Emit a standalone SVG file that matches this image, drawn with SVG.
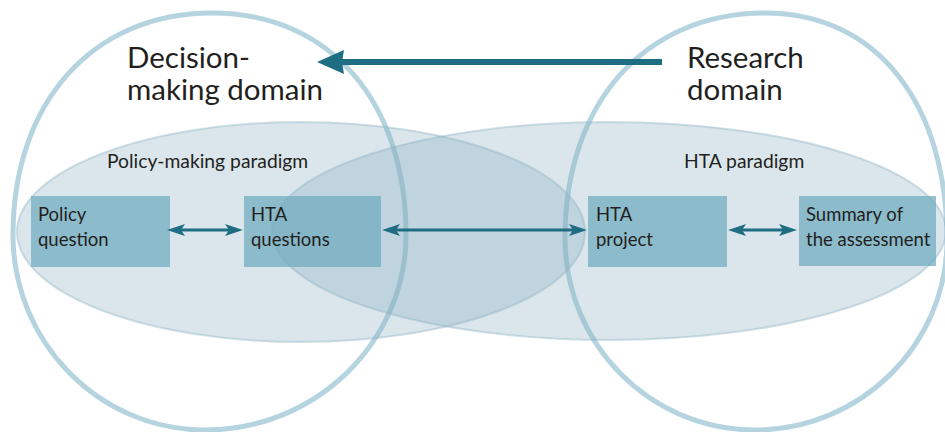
<svg xmlns="http://www.w3.org/2000/svg" width="945" height="432" viewBox="0 0 945 432">
  <defs>
    <style>
      .domain { fill: none; stroke: #b6d4df; stroke-width: 5; }
      .paradigm { fill: #84acbf; fill-opacity: 0.3; stroke: #8fb2c3; stroke-opacity: 0.4; stroke-width: 2; }
      .box { fill: #6daabe; fill-opacity: 0.72; }
      .title { font-family: Lato, "Open Sans", "Liberation Sans", sans-serif; font-size: 29.5px; fill: #231f20; }
      .label { font-family: Lato, "Open Sans", "Liberation Sans", sans-serif; font-size: 19.3px; fill: #231f20; }
      .boxtext { font-family: Lato, "Open Sans", "Liberation Sans", sans-serif; font-size: 18.5px; fill: #231f20; }
      .link { stroke: #1f6d82; stroke-width: 3; fill: none; }
      .flow { stroke: #1f6d82; stroke-width: 6; fill: none; }
    </style>
    <marker id="head" viewBox="0 0 18 12" refX="4" refY="6" markerWidth="18" markerHeight="12" markerUnits="userSpaceOnUse" orient="auto-start-reverse">
      <path d="M0,0 L18,6 L0,12 L4,6 z" fill="#1f6d82"/>
    </marker>
    <marker id="bighead" viewBox="0 0 27 24" refX="2" refY="12" markerWidth="27" markerHeight="24" markerUnits="userSpaceOnUse" orient="auto">
      <path d="M0,0 L27,12 L0,24 L2,12 z" fill="#1f6d82"/>
    </marker>
  </defs>

  <!-- domain outlines -->
  <g id="decision-domain">
    <path class="domain" d="M212,13 C330,13 406,102 406,235 C406,342 316,430 205,430 C99,430 13,342 13,235 C13,102 93,13 212,13 Z"/>
  </g>
  <g id="research-domain">
    <path class="domain" d="M765,13 C877,13 947,104 947,240 C947,345 860,430 755,430 C650,430 565,344 565,238 C565,103 645,13 765,13 Z"/>
  </g>

  <!-- paradigm ellipses -->
  <g id="policy-paradigm">
    <ellipse class="paradigm" cx="301" cy="232" rx="284" ry="110"/>
    <text class="label" x="107" y="168">Policy-making paradigm</text>
  </g>
  <g id="hta-paradigm">
    <ellipse class="paradigm" cx="609" cy="231" rx="337" ry="109"/>
    <text class="label" x="684" y="168">HTA paradigm</text>
  </g>

  <!-- domain titles -->
  <g id="decision-title">
    <text class="title" x="127" y="68">Decision-</text>
    <text class="title" x="127" y="100">making domain</text>
  </g>
  <g id="research-title">
    <text class="title" x="687" y="68">Research</text>
    <text class="title" x="687" y="100">domain</text>
  </g>

  <!-- process boxes -->
  <g id="policy-question">
    <rect class="box" x="31" y="196" width="139" height="71"/>
    <text class="boxtext" x="38" y="221">Policy</text>
    <text class="boxtext" x="38" y="246">question</text>
  </g>
  <g id="hta-questions">
    <rect class="box" x="244" y="196" width="137" height="71"/>
    <text class="boxtext" x="251" y="221">HTA</text>
    <text class="boxtext" x="251" y="246">questions</text>
  </g>
  <g id="hta-project">
    <rect class="box" x="588" y="196" width="139" height="71"/>
    <text class="boxtext" x="596" y="221">HTA</text>
    <text class="boxtext" x="596" y="246">project</text>
  </g>
  <g id="summary">
    <rect class="box" x="799" y="196" width="137" height="70"/>
    <text class="boxtext" x="806" y="221">Summary of</text>
    <text class="boxtext" x="806" y="246">the assessment</text>
  </g>

  <!-- connectors -->
  <g id="connectors">
    <line class="flow" x1="662" y1="62" x2="342" y2="62" marker-end="url(#bighead)"/>
    <line class="link" x1="181" y1="230" x2="229" y2="230" marker-start="url(#head)" marker-end="url(#head)"/>
    <line class="link" x1="396" y1="230" x2="573" y2="230" marker-start="url(#head)" marker-end="url(#head)"/>
    <line class="link" x1="742" y1="230" x2="783" y2="230" marker-start="url(#head)" marker-end="url(#head)"/>
  </g>
</svg>
